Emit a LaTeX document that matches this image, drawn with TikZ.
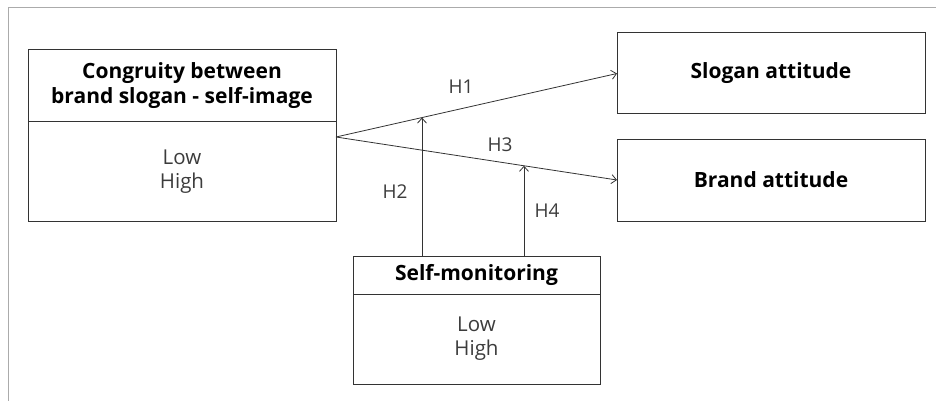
\documentclass[tikz,border=0pt]{standalone}
\usepackage{fontspec}
\setmainfont{Open Sans}
\usepackage{tikz}
\usetikzlibrary{positioning, arrows.meta, calc}
\definecolor{linegray}{HTML}{333333}
\definecolor{textgray}{HTML}{3C3C3C}
\definecolor{framegray}{HTML}{ABABAB}
\tikzstyle{titlebox} = [rectangle, draw=linegray, line width=1pt, inner sep=0pt, outer sep=0pt, align=center, font=\bfseries\fontsize{21}{25}\selectfont]
\tikzstyle{levelbox} = [rectangle, draw=linegray, line width=1pt, inner sep=0pt, outer sep=0pt, align=center, text=textgray, font=\fontsize{20.5}{24}\selectfont]
\tikzstyle{arrow} = [line width=0.8pt, draw=linegray, -{Straight Barb[length=5pt, width=9pt]}]
\tikzstyle{hlabel} = [text=textgray, font=\fontsize{19}{22}\selectfont]

\begin{document}
\begin{tikzpicture}[x=1pt, y=-1pt]
    \useasboundingbox (0,0) rectangle (936,401);
    % Frame
    \draw[framegray, line width=1pt] (8,401) -- (8,8) -- (936,8);

    % Independent variable
    \node[titlebox, minimum width=308pt, minimum height=72pt] (congtitle) at (182,86) {Congruity between\\brand slogan - self-image};
    \node[levelbox, minimum width=308pt, minimum height=99pt, below=0pt of congtitle] (congbody) {Low\\High};

    % Dependent variables
    \node[titlebox, minimum width=308pt, minimum height=81pt] (slogan) at (771,73.5) {Slogan attitude};
    \node[titlebox, minimum width=308pt, minimum height=82pt, below=25pt of slogan] (brand) {Brand attitude};

    % Moderator
    \node[titlebox, minimum width=247pt, minimum height=38pt] (smtitle) at (476.5,275) {Self-monitoring};
    \node[levelbox, minimum width=247pt, minimum height=90pt, below=0pt of smtitle] (smbody) {Low\\High};

    % Paths
    \coordinate (src) at ([yshift=-15pt]congbody.north east);
    \draw[arrow] (src) -- coordinate[pos=0.306] (h2tip) (slogan.west);
    \draw[arrow] (src) -- coordinate[pos=0.669] (h4tip) (brand.west);
    \draw[arrow] (smtitle.north -| h2tip) -- (h2tip);
    \draw[arrow] (smtitle.north -| h4tip) -- (h4tip);

    % Hypotheses
    \node[hlabel] (h1) at (461,87) {H1};
    \node[hlabel] (h2) at (395,192) {H2};
    \node[hlabel] (h3) at (500,145) {H3};
    \node[hlabel] (h4) at (547,211) {H4};

\end{tikzpicture}
\end{document}
